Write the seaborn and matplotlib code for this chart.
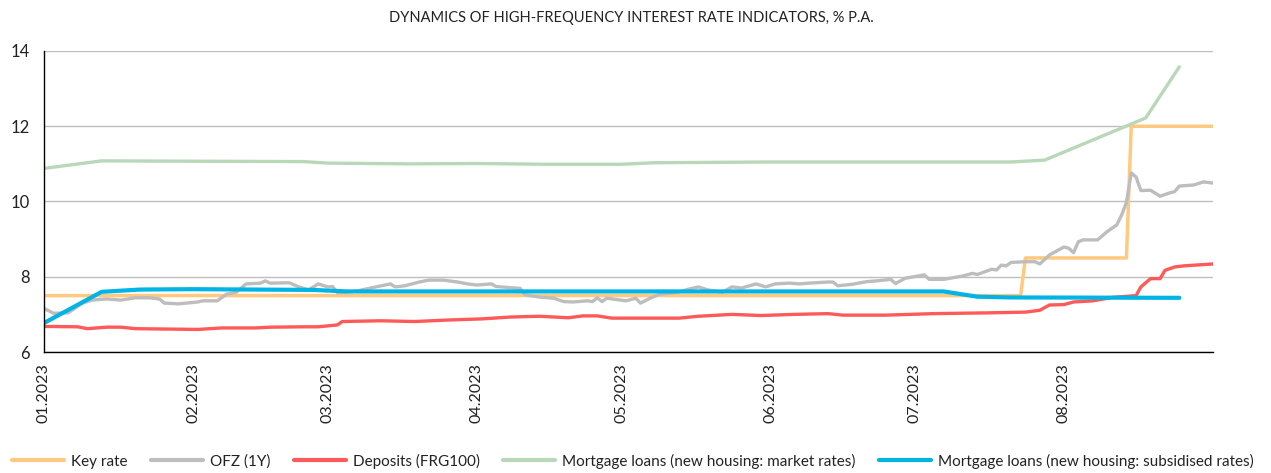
import pandas as pd
import numpy as np
import matplotlib
matplotlib.use("Agg")
import matplotlib.pyplot as plt
import matplotlib.dates as mdates
import seaborn as sns

# ---------------- data ----------------
key_dates = ["2023-01-01", "2023-07-23", "2023-07-24", "2023-08-14", "2023-08-15", "2023-09-01"]
key_vals = [7.5, 7.5, 8.5, 8.5, 12.0, 12.0]

ofz_dates = ["2023-01-01", "2023-01-03", "2023-01-06", "2023-01-09", "2023-01-11", "2023-01-14",
             "2023-01-17", "2023-01-20", "2023-01-23", "2023-01-25", "2023-01-26", "2023-01-29",
             "2023-02-02", "2023-02-03", "2023-02-06", "2023-02-08", "2023-02-10", "2023-02-12",
             "2023-02-15", "2023-02-16", "2023-02-17", "2023-02-21", "2023-02-23", "2023-02-25",
             "2023-02-27", "2023-03-01", "2023-03-02", "2023-03-03", "2023-03-07", "2023-03-11",
             "2023-03-14", "2023-03-15", "2023-03-17", "2023-03-20", "2023-03-22", "2023-03-25",
             "2023-03-28", "2023-03-30", "2023-04-01", "2023-04-04", "2023-04-05", "2023-04-09",
             "2023-04-10", "2023-04-11", "2023-04-14", "2023-04-17", "2023-04-19", "2023-04-21",
             "2023-04-24", "2023-04-25", "2023-04-26", "2023-04-27", "2023-04-28", "2023-05-02",
             "2023-05-04", "2023-05-05", "2023-05-07", "2023-05-09", "2023-05-11", "2023-05-13",
             "2023-05-15", "2023-05-17", "2023-05-19", "2023-05-22", "2023-05-24", "2023-05-26",
             "2023-05-29", "2023-05-31", "2023-06-02", "2023-06-05", "2023-06-07", "2023-06-09",
             "2023-06-13", "2023-06-14", "2023-06-15", "2023-06-18", "2023-06-21", "2023-06-23",
             "2023-06-26", "2023-06-27", "2023-06-29", "2023-07-03", "2023-07-04", "2023-07-07",
             "2023-07-11", "2023-07-13", "2023-07-14", "2023-07-17", "2023-07-18", "2023-07-19",
             "2023-07-20", "2023-07-21", "2023-07-24", "2023-07-26", "2023-07-27", "2023-07-29",
             "2023-08-01", "2023-08-02", "2023-08-03", "2023-08-04", "2023-08-05", "2023-08-08",
             "2023-08-09", "2023-08-10", "2023-08-12", "2023-08-13", "2023-08-14", "2023-08-15",
             "2023-08-16", "2023-08-17", "2023-08-19", "2023-08-21", "2023-08-23", "2023-08-24",
             "2023-08-25", "2023-08-28", "2023-08-30", "2023-09-01"]
ofz_vals = [7.16, 7.03, 7.04, 7.30, 7.38, 7.41,
            7.38, 7.44, 7.44, 7.41, 7.30, 7.28,
            7.33, 7.36, 7.36, 7.54, 7.59, 7.81,
            7.83, 7.89, 7.83, 7.84, 7.73, 7.65,
            7.81, 7.73, 7.74, 7.57, 7.62, 7.73,
            7.81, 7.73, 7.76, 7.86, 7.91, 7.91,
            7.86, 7.81, 7.78, 7.81, 7.74, 7.70,
            7.69, 7.52, 7.46, 7.43, 7.34, 7.33,
            7.36, 7.34, 7.44, 7.34, 7.43, 7.36,
            7.43, 7.30, 7.43, 7.54, 7.56, 7.60,
            7.67, 7.73, 7.65, 7.59, 7.73, 7.70,
            7.81, 7.73, 7.81, 7.83, 7.81, 7.83,
            7.86, 7.86, 7.76, 7.80, 7.87, 7.89,
            7.93, 7.82, 7.96, 8.05, 7.93, 7.93,
            8.02, 8.09, 8.06, 8.20, 8.18, 8.31,
            8.29, 8.38, 8.40, 8.40, 8.34, 8.58,
            8.79, 8.76, 8.64, 8.93, 8.98, 8.98,
            9.09, 9.20, 9.38, 9.64, 9.98, 10.76,
            10.65, 10.29, 10.30, 10.14, 10.23, 10.26,
            10.41, 10.44, 10.52, 10.49]

dep_dates = ["2023-01-01", "2023-01-08", "2023-01-10", "2023-01-14", "2023-01-17", "2023-01-20",
             "2023-02-02", "2023-02-07", "2023-02-14", "2023-02-17", "2023-02-24", "2023-02-27",
             "2023-03-03", "2023-03-04", "2023-03-12", "2023-03-19", "2023-03-26", "2023-04-02",
             "2023-04-08", "2023-04-14", "2023-04-20", "2023-04-23", "2023-04-26", "2023-04-29",
             "2023-05-13", "2023-05-17", "2023-05-24", "2023-05-30", "2023-06-06", "2023-06-13",
             "2023-06-16", "2023-06-25", "2023-07-05", "2023-07-16", "2023-07-24", "2023-07-27",
             "2023-07-29", "2023-08-01", "2023-08-03", "2023-08-07", "2023-08-11", "2023-08-16",
             "2023-08-17", "2023-08-19", "2023-08-21", "2023-08-22", "2023-08-24", "2023-08-26",
             "2023-09-01"]
dep_vals = [6.68, 6.67, 6.62, 6.66, 6.66, 6.62,
            6.60, 6.64, 6.64, 6.66, 6.67, 6.67,
            6.72, 6.81, 6.83, 6.81, 6.85, 6.88,
            6.93, 6.95, 6.91, 6.96, 6.96, 6.90,
            6.90, 6.95, 7.00, 6.97, 7.00, 7.02,
            6.98, 6.98, 7.02, 7.04, 7.06, 7.11,
            7.25, 7.26, 7.33, 7.36, 7.45, 7.50,
            7.73, 7.95, 7.95, 8.17, 8.26, 8.29,
            8.34]

mkt_dates = ["2023-01-01", "2023-01-13", "2023-02-24", "2023-03-01", "2023-03-18", "2023-04-01",
             "2023-04-15", "2023-05-01", "2023-05-08", "2023-06-01", "2023-07-21", "2023-07-28",
             "2023-08-18", "2023-08-25"]
mkt_vals = [10.88, 11.08, 11.06, 11.02, 11.00, 11.01,
            10.99, 10.99, 11.03, 11.05, 11.05, 11.10,
            12.22, 13.58]

sub_dates = ["2023-01-01", "2023-01-13", "2023-01-21", "2023-02-01", "2023-02-26", "2023-03-05",
             "2023-07-07", "2023-07-10", "2023-07-14", "2023-07-21", "2023-08-25"]
sub_vals = [6.77, 7.60, 7.66, 7.67, 7.65, 7.61,
            7.61, 7.55, 7.47, 7.45, 7.44]

month_ticks = ["2023-01-01", "2023-02-01", "2023-03-01", "2023-04-01",
               "2023-05-01", "2023-06-01", "2023-07-01", "2023-08-01"]

series_names = ["Key rate", "OFZ (1Y)", "Deposits (FRG100)",
                "Mortgage loans (new housing: market rates)",
                "Mortgage loans (new housing: subsidised rates)"]
series_colors = ["#FFC97F", "#BDBDBD", "#FF5A5A", "#B9D7B9", "#00B5E6"]
series_widths = [2.5, 2.4, 2.4, 2.4, 3.0]

title = "DYNAMICS OF HIGH-FREQUENCY INTEREST RATE INDICATORS, % P.A."

# ---------------- plotting ----------------
sns.set_style("white")
plt.rcParams["font.family"] = ["Lato", "DejaVu Sans"]

fig = plt.figure(figsize=(12.71, 4.73), dpi=100)
ax = fig.add_axes([0.0346, 0.2558, 0.9198, 0.6364])

all_data = [(key_dates, key_vals), (ofz_dates, ofz_vals), (dep_dates, dep_vals),
            (mkt_dates, mkt_vals), (sub_dates, sub_vals)]
for (d, v), name, c, w in zip(all_data, series_names, series_colors, series_widths):
    df = pd.DataFrame({"date": pd.to_datetime(d), "value": v})
    sns.lineplot(data=df, x="date", y="value", ax=ax, color=c, linewidth=w,
                 label=name, estimator=None, sort=False)

ax.set_xlim(pd.Timestamp("2023-01-01"), pd.Timestamp("2023-09-01"))
ax.set_ylim(6, 14)
ax.set_yticks([6, 8, 10, 12, 14])
ax.set_xticks(pd.to_datetime(month_ticks))
ax.xaxis.set_major_formatter(mdates.DateFormatter("%m.%Y"))
ax.set_xlabel("")
ax.set_ylabel("")

ax.yaxis.grid(True, color="#BFBFBF", linewidth=1.0)
ax.xaxis.grid(False)
ax.set_axisbelow(True)
for s in ["top", "right"]:
    ax.spines[s].set_visible(False)
for s in ["left", "bottom"]:
    ax.spines[s].set_color("black")
    ax.spines[s].set_linewidth(1.0)
ax.tick_params(axis="both", which="major", direction="out", length=5, width=1,
               color="black", labelsize=11.5, labelcolor="#222222")
ax.tick_params(axis="y", pad=5, labelsize=12)
ax.tick_params(axis="x", pad=3)
for lbl in ax.get_xticklabels():
    lbl.set_rotation(90)
    lbl.set_ha("center")
    lbl.set_va("top")

fig.text(0.497, 0.962, title, ha="center", va="center", fontsize=10.5, color="#222222")

leg = ax.legend(loc="center", bbox_to_anchor=(0.498, 0.025), bbox_transform=fig.transFigure,
                ncol=5, frameon=False, fontsize=11, handlelength=3.4, handletextpad=0.45,
                columnspacing=1.55)
for line in leg.get_lines():
    line.set_linewidth(3.0)
for t in leg.get_texts():
    t.set_color("#222222")

fig.savefig("out.png", dpi=100)
